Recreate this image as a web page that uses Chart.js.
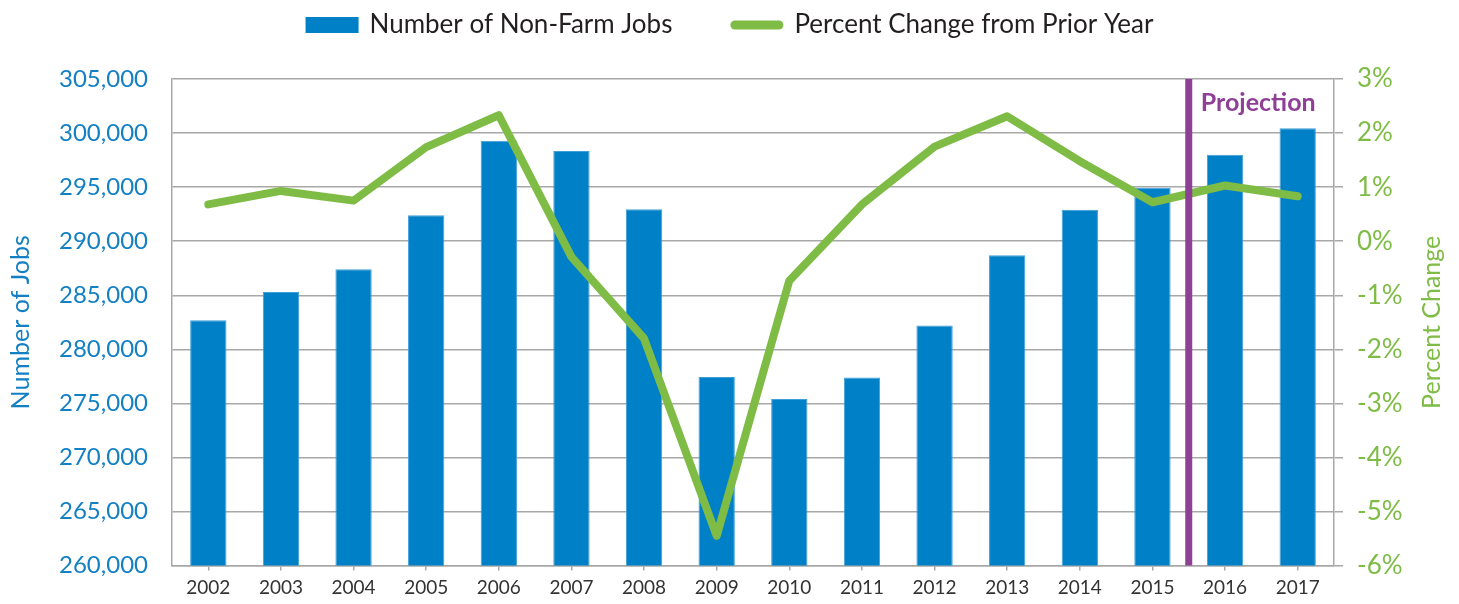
<!DOCTYPE html>
<html>
<head>
<meta charset="utf-8">
<script src="https://cdn.jsdelivr.net/npm/chart.js@4.4.1/dist/chart.umd.min.js"></script>
<style>
  html, body { margin: 0; padding: 0; background: #fff; }
  #wrap { width: 1459px; height: 604px; position: relative; }
</style>
</head>
<body>
<div id="wrap"><canvas id="jobsChart"></canvas></div>
<script>
// data
const years = ['2002', '2003', '2004', '2005', '2006', '2007', '2008', '2009',
               '2010', '2011', '2012', '2013', '2014', '2015', '2016', '2017'];
const jobs = [282700, 285300, 287400, 292400, 299300, 298350, 292950, 277450,
              275400, 277400, 282200, 288700, 292900, 294950, 298000, 300450];
const pctChange = [0.68, 0.93, 0.75, 1.74, 2.33, -0.29, -1.80, -5.45,
                   -0.73, 0.68, 1.75, 2.31, 1.48, 0.72, 1.03, 0.83];
const jobsRange = [260000, 305000, 5000];
const pctRange = [-6, 3, 1];
const projectionFrom = '2016';
const seriesNames = ['Number of Non-Farm Jobs', 'Percent Change from Prior Year'];

const BLUE = '#0080c6';
const BLUE_TEXT = '#1380c4';
const GREEN = '#7fbc45';
const PURPLE = '#8e3f96';
const GRID = '#a8a8a8';
const FONT = 'Lato, "Open Sans", sans-serif';

// legend drawn by hand so the swatches look like the original (box + thick line)
const topLegend = {
  id: 'topLegend',
  afterDraw(chart) {
    const ctx = chart.ctx;
    ctx.save();
    ctx.font = '26px ' + FONT;
    ctx.textBaseline = 'middle';
    const sw = 53, gapText = 11, gapItem = 58, cy = 25;
    const w0 = ctx.measureText(seriesNames[0]).width;
    const w1 = ctx.measureText(seriesNames[1]).width;
    const total = sw + gapText + w0 + gapItem + sw + gapText + w1;
    let x = (chart.width - total) / 2;
    ctx.fillStyle = BLUE;
    ctx.fillRect(x, cy - 8, sw, 16);
    ctx.fillStyle = '#231f20';
    ctx.fillText(seriesNames[0], x + sw + gapText, cy);
    x += sw + gapText + w0 + gapItem;
    ctx.strokeStyle = GREEN;
    ctx.lineWidth = 9;
    ctx.lineCap = 'round';
    ctx.beginPath();
    ctx.moveTo(x + 4.5, cy);
    ctx.lineTo(x + sw - 4.5, cy);
    ctx.stroke();
    ctx.fillText(seriesNames[1], x + sw + gapText, cy);
    ctx.restore();
  }
};

// right axis title reads bottom-to-top like the left one
const rightTitle = {
  id: 'rightTitle',
  afterDraw(chart) {
    const area = chart.chartArea;
    const ctx = chart.ctx;
    ctx.save();
    ctx.translate(1432, (area.top + area.bottom) / 2);
    ctx.rotate(-Math.PI / 2);
    ctx.fillStyle = GREEN;
    ctx.font = '25px ' + FONT;
    ctx.textAlign = 'center';
    ctx.textBaseline = 'middle';
    ctx.fillText('Percent Change', 0, 0);
    ctx.restore();
  }
};

// vertical marker between the last actual year and the projected ones
const projectionLine = {
  id: 'projectionLine',
  afterDatasetsDraw(chart) {
    const xs = chart.scales.x;
    const i = years.indexOf(projectionFrom);
    const px = (xs.getPixelForValue(i - 1) + xs.getPixelForValue(i)) / 2;
    const area = chart.chartArea;
    const ctx = chart.ctx;
    ctx.save();
    ctx.strokeStyle = PURPLE;
    ctx.lineWidth = 7;
    ctx.beginPath();
    ctx.moveTo(px, area.top);
    ctx.lineTo(px, area.bottom);
    ctx.stroke();
    ctx.fillStyle = PURPLE;
    ctx.font = 'bold 25px ' + FONT;
    ctx.textBaseline = 'middle';
    ctx.fillText('Projection', px + 12, area.top + 24);
    ctx.restore();
  }
};

new Chart(document.getElementById('jobsChart'), {
  data: {
    labels: years,
    datasets: [
      {
        type: 'line',
        label: seriesNames[1],
        data: pctChange,
        yAxisID: 'y1',
        borderColor: GREEN,
        backgroundColor: GREEN,
        borderWidth: 8,
        borderCapStyle: 'round',
        borderJoinStyle: 'round',
        pointRadius: 0,
        tension: 0,
        order: 0,
      },
      {
        type: 'bar',
        label: seriesNames[0],
        data: jobs,
        yAxisID: 'y',
        backgroundColor: BLUE,
        borderColor: '#3f9fd8',
        borderWidth: 1,
        categoryPercentage: 1,
        barPercentage: 0.5,
        order: 1,
      },
    ],
  },
  options: {
    responsive: true,
    maintainAspectRatio: false,
    animation: false,
    layout: { padding: { top: 79, left: 0, right: 0, bottom: 0 } },
    plugins: {
      legend: { display: false },
      tooltip: { enabled: false },
    },
    scales: {
      x: {
        grid: { drawOnChartArea: false, offset: false, color: GRID, lineWidth: 1.5, tickLength: 5 },
        border: { color: GRID, width: 1.5 },
        ticks: { color: '#333333', font: { family: FONT, size: 19 }, padding: 6, maxRotation: 0 },
        afterFit(s) { s.height = 36; },
      },
      y: {
        position: 'left',
        min: jobsRange[0],
        max: jobsRange[1],
        ticks: {
          stepSize: jobsRange[2],
          color: BLUE_TEXT,
          font: { family: FONT, size: 24 },
          padding: 24,
          callback: (v) => v.toLocaleString('en-US'),
        },
        grid: { color: GRID, lineWidth: 1.5, drawTicks: false },
        border: { color: GRID, width: 1.5 },
        title: {
          display: true,
          text: 'Number of Jobs',
          color: BLUE_TEXT,
          font: { family: FONT, size: 25 },
          padding: { top: 6, bottom: 0 },
        },
        afterFit(s) { s.width = 172; },
      },
      y1: {
        position: 'right',
        min: pctRange[0],
        max: pctRange[1],
        ticks: {
          stepSize: pctRange[2],
          color: GREEN,
          font: { family: FONT, size: 26 },
          padding: 14,
          callback: (v) => v + '%',
        },
        grid: { drawOnChartArea: false, color: GRID, lineWidth: 1.5, tickLength: 9 },
        border: { color: GRID, width: 1.5 },
        title: { display: false },
        afterFit(s) { s.width = 125; },
      },
    },
  },
  plugins: [projectionLine, rightTitle, topLegend],
});
</script>
</body>
</html>
